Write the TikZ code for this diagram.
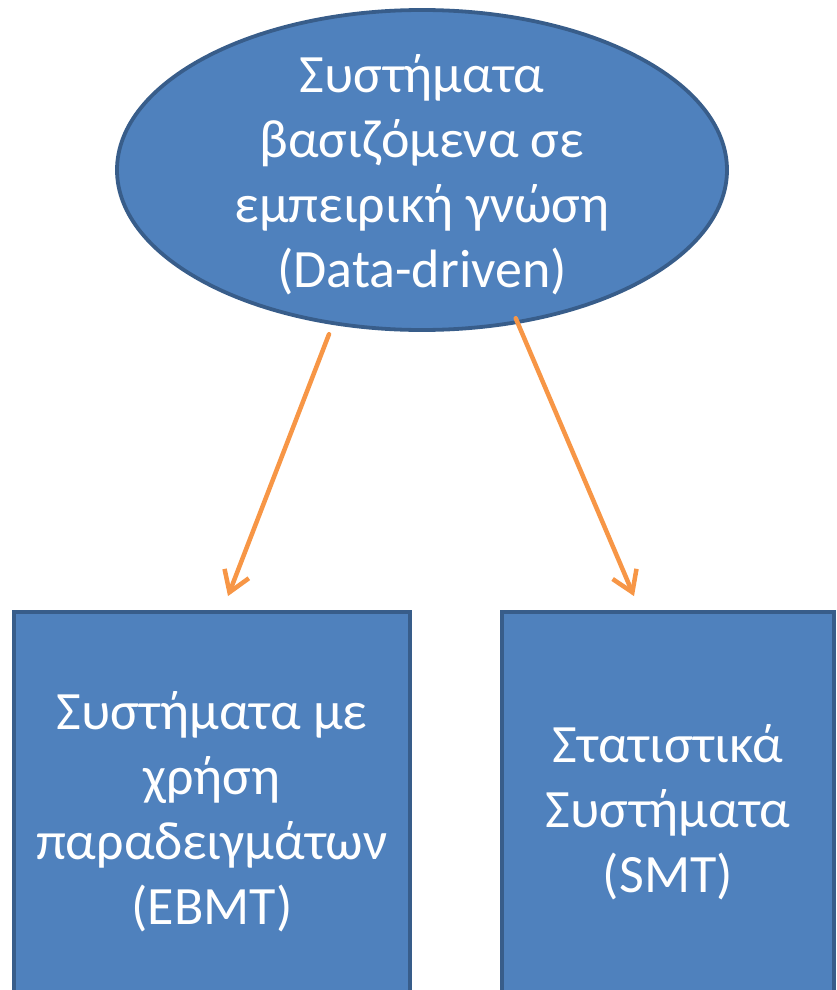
\documentclass[tikz,border=0pt]{standalone}
\usepackage{fontspec}
\setmainfont{Carlito}
\usepackage{xcolor}
\usepackage{tikz}
\usetikzlibrary{arrows.meta, shapes.geometric}

\definecolor{boxblue}{HTML}{4F81BD}
\definecolor{edgeblue}{HTML}{385D8A}
\definecolor{arroworange}{HTML}{F79646}

\begin{document}
\begin{tikzpicture}[x=1pt,y=1pt,>={Straight Barb[length=20pt,width=26pt]},line cap=round]
            \tikzset{every node/.style={text=white, font=\fontsize{54}{65}\selectfont, align=center},
                     blob/.style={ellipse, draw=edgeblue, fill=boxblue, line width=3.8pt, minimum width=610pt, minimum height=320pt},
                     block/.style={rectangle, draw=edgeblue, fill=boxblue, line width=3.8pt, minimum height=400pt},
                     link/.style={->, draw=arroworange, line width=4.5pt}}
            \useasboundingbox (0,0) rectangle (837,-990);
            \node[blob] (top) at (422,-170) {};
            \node (toptext) at ([yshift=-5]top.center) {Συστήματα\\βασιζόμενα σε\\εμπειρική γνώση\\(Data-driven)};
            \node[block, minimum width=396pt] (ebmt) at (212,-812) {Συστήματα με\\χρήση\\παραδειγμάτων\\(EBMT)};
            \node[block, minimum width=332pt] (smt) at (668,-812) {Στατιστικά\\Συστήματα\\(SMT)};
            \draw[link, shorten <=10pt] (top.240) -- ([shift={(16,14)}]ebmt.north);
            \draw[link, shorten <=-6pt] (top.302) -- ([shift={(-34,14)}]smt.north);
        \end{tikzpicture}
\end{document}
